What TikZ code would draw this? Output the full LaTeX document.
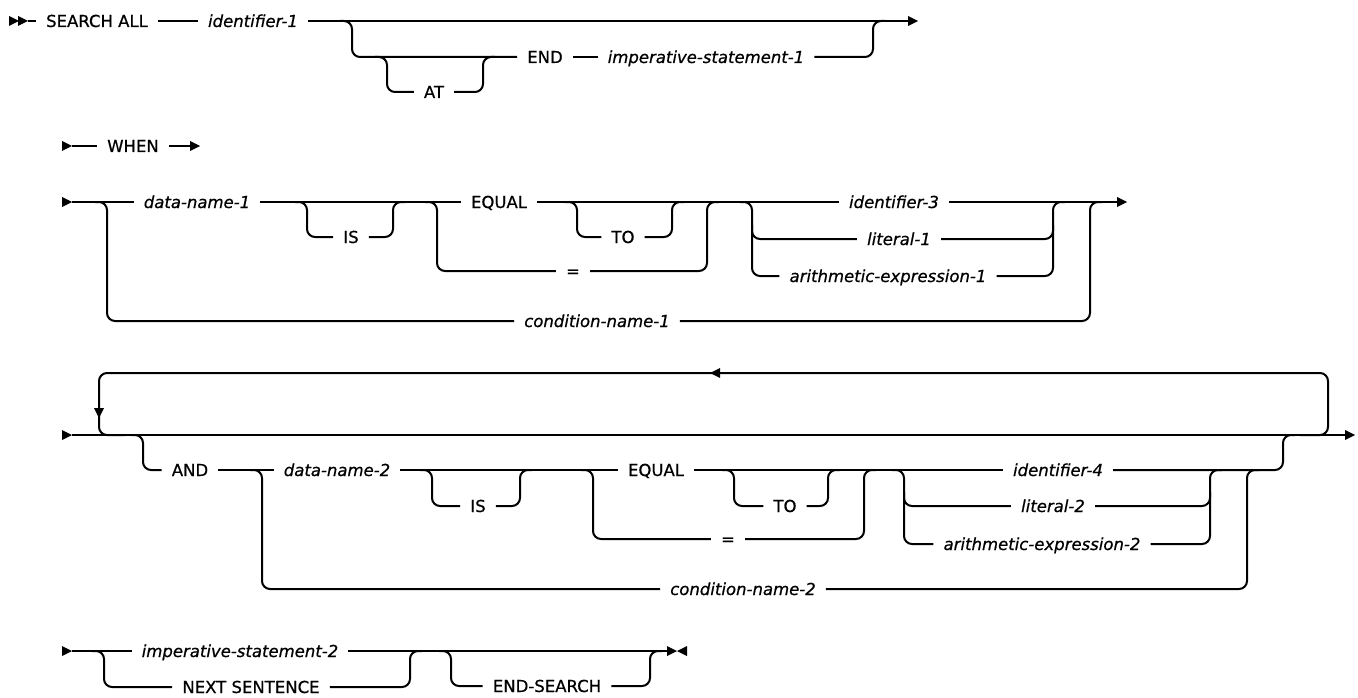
\documentclass[tikz,border=0pt]{standalone}
\usepackage{fontspec}
\setmainfont{DejaVu Sans}[FakeBold=0.7]
\newcommand\railR[2]{\fill (#1,#2) -- ++(-10,-5) -- ++(0,10) -- cycle;}
\newcommand\railL[2]{\fill (#1,#2) -- ++(10,-5) -- ++(0,10) -- cycle;}
\newcommand\railD[2]{\fill (#1,#2) -- ++(-5,-10) -- ++(10,0) -- cycle;}
\begin{document}
\begin{tikzpicture}[x=1pt,y=-1pt,
  rr/.style={line width=2pt, rounded corners=8pt},
  lbl/.style={inner xsep=10pt, inner ysep=0pt, text height=12pt, text depth=0pt, font=\fontsize{16.5}{18}\selectfont},
  kw/.style={lbl},
  var/.style={lbl, font=\fontsize{16.5}{18}\selectfont\itshape}]
\path[use as bounding box] (0,0) rectangle (1358,698);

% ---------- Row 1 ----------
\node[kw]  (search) at (97,21)  {SEARCH ALL};
\node[var] (id1)    at (253,21) {identifier-1};
\node[kw]  (at)     at (434,92) {AT};
\node[kw]  (end)    at (545,57) {END};
\node[var] (imp1)   at (706,57) {imperative-statement-1};
\railR{19}{21}\railR{28}{21}
\draw[rr] (28,21) -- (search.west);
\draw[rr] (search.east) -- (id1.west);
\draw[rr] (id1.east) -- (908,21);
\railR{918}{21}
\draw[rr] (340,21) -- (352,21) -- (352,57) -- (end.west);
\draw[rr] (375,57) -- (387,57) -- (387,92) -- (at.west);
\draw[rr] (at.east) -- (483,92) -- (483,57) -- (495,57);
\draw[rr] (end.east) -- (imp1.west);
\draw[rr] (imp1.east) -- (873,57) -- (873,21) -- (885,21);

% ---------- Row 2 ----------
\node[kw] (when) at (133,146) {WHEN};
\railR{72}{146}
\draw[rr] (72,146) -- (when.west);
\draw[rr] (when.east) -- (191,146);
\railR{200}{146}

% ---------- Row 3 ----------
\node[var] (dn1)  at (197,202) {data-name-1};
\node[kw]  (is1)  at (351,237) {IS};
\node[kw]  (eq1)  at (499,202) {EQUAL};
\node[kw]  (to1)  at (623,237) {TO};
\node[kw]  (eqs1) at (573,271) {=};
\node[var] (id3)  at (894,202) {identifier-3};
\node[var] (lit1) at (899,239) {literal-1};
\node[var] (ae1)  at (888,276) {arithmetic-expression-1};
\node[var] (cn1)  at (597,321) {condition-name-1};
\railR{72}{202}
\draw[rr] (72,202) -- (dn1.west);
\draw[rr] (95,202) -- (107,202) -- (107,321) -- (cn1.west);
\draw[rr] (dn1.east) -- (eq1.west);
\draw[rr] (295,202) -- (307,202) -- (307,237) -- (is1.west);
\draw[rr] (is1.east) -- (393,237) -- (393,202) -- (405,202);
\draw[rr] (425,202) -- (437,202) -- (437,271) -- (eqs1.west);
\draw[rr] (eqs1.east) -- (707,271) -- (707,202) -- (719,202);
\draw[rr] (eq1.east) -- (id3.west);
\draw[rr] (565,202) -- (577,202) -- (577,237) -- (to1.west);
\draw[rr] (to1.east) -- (672,237) -- (672,202) -- (684,202);
\draw[rr] (740,202) -- (752,202) -- (752,276) -- (ae1.west);
\draw[rr] (752,225) -- (752,239) -- (lit1.west);
\draw[rr] (lit1.east) -- (1053,239) -- (1053,225);
\draw[rr] (ae1.east) -- (1053,276) -- (1053,202) -- (1065,202);
\draw[rr] (id3.east) -- (1118,202);
\draw[rr] (cn1.east) -- (1090,321) -- (1090,202) -- (1102,202);
\railR{1127}{202}

% ---------- Loop section ----------
\node[kw]  (and)  at (190,470)  {AND};
\node[var] (dn2)  at (337,470)  {data-name-2};
\node[kw]  (is2)  at (478,506)  {IS};
\node[kw]  (eq2)  at (656,470)  {EQUAL};
\node[kw]  (to2)  at (785,506)  {TO};
\node[kw]  (eqs2) at (728,539)  {=};
\node[var] (id4)  at (1058,470) {identifier-4};
\node[var] (lit2) at (1053,506) {literal-2};
\node[var] (ae2)  at (1042,544) {arithmetic-expression-2};
\node[var] (cn2)  at (743,589)  {condition-name-2};
\railR{72}{435}
\draw[rr] (72,435) -- (1346,435);
\railR{1355}{435}
\draw[rr] (1300,435) -- (1328,435) -- (1328,373) -- (99,373) -- (99,435) -- (125,435);
\railD{99}{418}
\railL{710}{373}
\draw[rr] (131,435) -- (143,435) -- (143,470) -- (and.west);
\draw[rr] (and.east) -- (dn2.west);
\draw[rr] (250,470) -- (262,470) -- (262,589) -- (cn2.west);
\draw[rr] (dn2.east) -- (eq2.west);
\draw[rr] (420,470) -- (432,470) -- (432,506) -- (is2.west);
\draw[rr] (is2.east) -- (520,506) -- (520,470) -- (532,470);
\draw[rr] (581,470) -- (593,470) -- (593,539) -- (eqs2.west);
\draw[rr] (eqs2.east) -- (864,539) -- (864,470) -- (876,470);
\draw[rr] (722,470) -- (734,470) -- (734,506) -- (to2.west);
\draw[rr] (to2.east) -- (828,506) -- (828,470) -- (840,470);
\draw[rr] (eq2.east) -- (id4.west);
\draw[rr] (892,470) -- (904,470) -- (904,544) -- (ae2.west);
\draw[rr] (904,492) -- (904,506) -- (lit2.west);
\draw[rr] (lit2.east) -- (1210,506) -- (1210,492);
\draw[rr] (ae2.east) -- (1210,544) -- (1210,470) -- (1222,470);
\draw[rr] (id4.east) -- (1283,470) -- (1283,435) -- (1295,435);
\draw[rr] (cn2.east) -- (1247,589) -- (1247,470) -- (1259,470);

% ---------- Bottom row ----------
\node[var] (imp2) at (240,651) {imperative-statement-2};
\node[kw]  (next) at (251,687) {NEXT SENTENCE};
\node[kw]  (es)   at (547,686) {END-SEARCH};
\railR{72}{651}
\draw[rr] (72,651) -- (imp2.west);
\draw[rr] (92,651) -- (104,651) -- (104,687) -- (next.west);
\draw[rr] (next.east) -- (410,687) -- (410,651) -- (422,651);
\draw[rr] (imp2.east) -- (668,651);
\draw[rr] (439,651) -- (451,651) -- (451,686) -- (es.west);
\draw[rr] (es.east) -- (650,686) -- (650,651) -- (662,651);
\railR{677}{651}\railL{677}{651}
\end{tikzpicture}
\end{document}
